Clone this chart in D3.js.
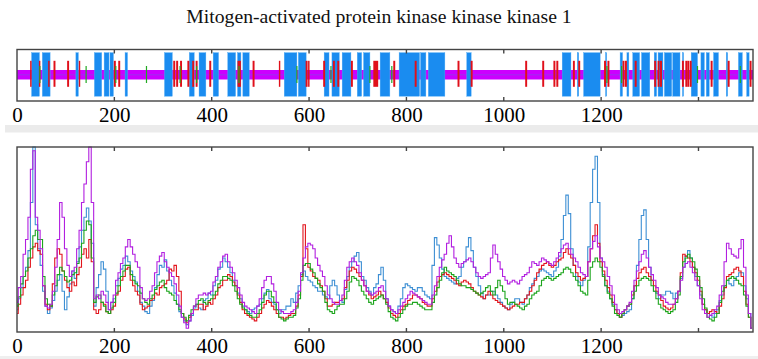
<!DOCTYPE html>
<html><head><meta charset="utf-8">
<script src="https://cdn.jsdelivr.net/npm/d3@7"></script>
<style>body{margin:0;background:#fff}svg{display:block}</style>
</head><body>
<script>
const title = "Mitogen-activated protein kinase kinase kinase 1";
const seqLength = 1512;
const tickValues = [0,200,400,600,800,1000,1200,1400];
const tickLabels = ["0","200","400","600","800","1000","1200",""];
// Domain map features (residue ranges)
const blueBlocks = [[30,46],[52,68],[121,126],[159,174],[179,189],[191,198],[222,227],[303,319],[354,364],[374,388],[403,414],[433,449],[453,460],[464,477],
 [549,575],[578,594],[631,641],[647,662],[668,686],[699,708],[712,725],[746,766],[785,827],[829,840],[845,879],[924,933],
 [1120,1138],[1151,1154],[1164,1198],[1209,1211],[1239,1244],[1253,1257],[1265,1279],[1283,1300],[1309,1314],[1317,1327],[1330,1345],[1347,1362],[1367,1369],[1385,1398],[1405,1412],[1416,1422],[1431,1441],[1457,1460],[1482,1490],[1499,1504]];
const redMarks = [[27,30],[45,48],[64,67],[75,79],[103,107],[127,129],[199,203],[208,212],[321,325],[327,331],[335,339],[350,354],[360,364],[367,371],[395,399],[453,457],[456,460],
 [484,488],[538,540],[593,597],[598,601],[629,633],[649,653],[658,662],[686,690],[732,742],[773,777],[817,821],[905,909],[932,936],
 [1044,1048],[1079,1083],[1102,1106],[1108,1112],[1142,1146],[1153,1157],[1206,1210],[1213,1217],[1244,1248],[1249,1253],[1269,1273],[1309,1313],[1316,1320],[1321,1325],[1366,1370],[1373,1377],[1377,1381],[1382,1386],[1425,1429],[1460,1464],[1505,1509]];
const greenMarks = [47,142,203,266,335,369,456,575,645,725,770,1212,1242,1398,1486];

// Profile series, one value every 5 residues (0..1510)
const residues = d3.range(0,1511,5);
const blueSeries = [
12,18,24,30,35,44,70,100,58,45, 36,22,14,10,13,17,22,28,31,22, 12,19,26,33,29,38,46,55,62,67, 60,48,14,24,31,38,34,22,12,16,
18,25,29,34,36,41,38,33,30,27, 22,16,14,11,10,14,17,24,31,36, 35,39,33,28,25,21,15,11,8,6, 4,6,9,13,15,13,12,17,18,21,
20,25,28,34,35,40,38,35,32,28, 25,21,18,14,12,11,10,12,13,14, 15,18,21,23,18,16,15,12,10,12, 12,14,14,18,16,21,25,31,33,30,
28,27,25,24,22,22,20,19,18,25, 28,25,20,17,16,23,30,35,38,41, 43,38,30,28,24,22,20,24,26,31, 35,28,18,14,12,11,10,14,18,24,
26,25,24,23,22,24,24,22,20,19, 18,36,51,47,40,34,30,29,28,27, 26,29,30,35,38,46,51,44,35,30, 25,21,18,20,20,22,22,20,18,16,
14,13,12,15,16,18,18,16,15,18, 20,24,26,29,30,33,34,33,32,31, 30,33,35,41,50,63,74,64,45,36, 30,27,25,28,30,46,70,88,95,70,
40,31,25,22,18,15,12,10,8,9, 10,11,12,18,25,36,50,63,66,50, 35,28,22,21,18,20,20,22,22,21, 18,21,22,29,35,41,44,40,35,30,
25,20,15,12,10,9,8,10,12,17, 20,25,28,26,25,28,30,32,32,25, 18,10,2];
const redSeries = [
10,15,20,24,28,35,40,46,48,44, 42,25,15,12,14,26,40,45,42,33, 28,24,22,27,25,31,35,42,45,40, 50,38,12,10,12,16,15,11,10,12,
14,20,22,28,30,34,35,28,25,22, 20,15,12,13,14,17,18,21,20,24, 25,26,28,34,33,36,30,22,10,7, 5,8,10,12,12,15,15,12,14,16,
15,18,20,24,25,28,28,31,30,27, 25,20,16,12,10,9,8,7,6,8, 10,13,15,17,16,14,12,10,8,8, 7,8,9,10,10,14,20,30,58,45,
35,33,30,29,28,25,22,18,14,14, 15,16,16,17,18,24,28,33,35,34, 32,30,28,25,22,20,18,19,20,22, 20,18,16,13,10,9,8,10,12,14,
15,17,18,20,20,19,18,16,15,14, 14,18,22,27,30,31,32,31,30,29, 28,26,25,27,28,27,26,24,22,21, 20,19,18,20,22,20,18,17,16,15,
14,13,12,13,14,15,15,16,16,18, 20,22,25,28,32,34,36,37,38,36, 35,36,38,39,40,43,45,42,40,36, 32,30,28,29,30,38,45,52,58,48,
38,33,28,24,20,16,12,10,8,10, 12,14,15,20,25,29,32,34,35,32, 30,28,25,22,20,17,14,13,12,13, 15,18,22,32,42,41,40,38,35,32,
28,22,15,12,10,11,12,11,10,14, 18,24,30,31,32,34,35,33,30,22, 15,8,2];
const greenSeries = [
14,19,26,30,33,40,45,52,55,50, 50,30,18,15,14,20,25,31,35,33, 30,27,28,31,32,37,40,48,55,60, 58,40,16,19,20,16,14,11,10,13,
16,21,25,30,33,36,36,31,28,26, 25,21,18,16,15,18,20,23,25,27, 28,24,22,21,20,17,15,12,10,8, 6,9,12,14,15,17,18,16,15,17,
18,20,22,26,28,30,30,29,28,25, 22,18,15,13,12,10,9,8,8,10, 12,16,20,22,22,19,16,12,8,7, 6,7,8,8,9,13,18,28,36,37,
37,34,32,29,26,24,22,16,12,11, 10,12,14,15,15,18,22,27,30,29, 28,25,22,20,18,16,15,17,18,19, 20,18,15,11,8,7,6,8,10,12,
14,15,15,16,16,15,14,13,12,12, 12,16,20,24,28,32,35,33,32,31, 30,28,26,25,25,24,24,23,22,21, 20,21,22,24,25,22,20,24,28,25,
22,18,15,16,16,15,14,13,12,14, 15,18,20,21,22,25,28,29,30,29, 28,29,30,31,32,34,35,34,32,30, 28,25,22,21,20,28,35,38,40,38,
35,30,25,21,18,14,10,9,8,10, 12,14,15,18,22,25,28,29,30,29, 28,25,22,18,15,13,12,11,10,11, 12,16,20,30,38,40,42,40,38,34,
30,24,18,13,8,7,6,8,10,16, 22,25,28,29,30,29,28,26,25,20, 14,8,2];
const magentaSeries = [
16,24,30,42,50,62,88,98,62,55, 45,25,14,13,15,22,35,50,70,62, 45,36,30,33,35,45,55,70,80,92, 100,70,18,20,18,22,20,16,12,16,
20,28,32,37,40,46,50,46,42,38, 35,24,18,17,18,22,25,32,38,41, 43,38,35,32,30,26,20,14,8,5, 2,6,10,14,18,20,20,21,20,21,
22,27,30,35,38,41,42,38,35,32, 28,24,20,16,14,13,12,11,10,14, 18,24,28,30,30,26,22,16,12,11, 10,10,10,11,12,16,22,32,40,46,
48,47,45,40,36,33,30,25,20,18, 16,15,15,17,20,28,35,38,40,38, 36,32,28,25,22,21,20,21,22,24, 25,22,18,14,12,11,10,12,14,16,
18,20,22,21,20,19,18,17,16,15, 15,20,25,30,35,39,42,48,52,46, 40,37,35,37,38,39,40,38,35,32, 30,29,30,31,32,40,47,42,38,34,
30,28,26,27,28,27,26,28,30,31, 32,35,38,37,36,38,40,39,38,37, 36,38,40,43,45,47,48,45,42,40, 38,35,32,31,30,38,45,49,52,46,
40,38,35,30,25,20,15,12,10,11, 12,14,16,22,28,33,38,42,44,40, 35,31,28,24,20,19,18,16,15,15, 15,18,22,28,35,37,38,35,32,28,
25,18,12,10,8,9,10,12,14,20, 25,38,48,45,42,41,40,45,50,35, 20,10,2];

const W = 758, H = 359;
const svg = d3.select("body").append("svg").attr("width",W).attr("height",H);
svg.append("rect").attr("width",W).attr("height",H).attr("fill","#fff");
svg.append("rect").attr("x",5).attr("y",125).attr("width",W-5).attr("height",7.5).attr("fill","#ebebeb");
svg.append("rect").attr("x",0).attr("y",356).attr("width",W).attr("height",3).attr("fill","#efefef");

const x = d3.scaleLinear().domain([0,seqLength]).range([17,753]);
const serif = "'Liberation Serif','Times New Roman',serif";

svg.append("text").attr("x",379).attr("y",23).attr("text-anchor","middle")
  .attr("font-family",serif).attr("font-size",19.7).attr("fill","#111").text(title);

// ---------- Top domain panel ----------
const top0 = 49.5, top1 = 101;
const g1 = svg.append("g");
g1.append("rect").attr("x",x(0)).attr("y",70).attr("width",x(seqLength)-x(0)).attr("height",9.5).attr("fill","#cc00ff");
g1.append("line").attr("x1",x(0)).attr("x2",x(seqLength)).attr("y1",74.8).attr("y2",74.8).attr("stroke","#7a50e0").attr("stroke-width",0.6);
g1.selectAll("rect.blue").data(blueBlocks).join("rect").attr("class","blue")
  .attr("x",d=>x(d[0])).attr("width",d=>Math.max(1.2,x(d[1])-x(d[0])))
  .attr("y",52.7).attr("height",43.5).attr("fill","#1a8cf0").attr("stroke","#4aa8f5").attr("stroke-width",0.4);
g1.selectAll("rect.red").data(redMarks).join("rect").attr("class","red")
  .attr("x",d=>x(d[0])).attr("width",d=>Math.max(1.4,x(d[1])-x(d[0])))
  .attr("y",60.8).attr("height",26).attr("fill","#e0101a");
g1.selectAll("rect.green").data(greenMarks).join("rect").attr("class","green")
  .attr("x",d=>x(d)-0.6).attr("width",1.2)
  .attr("y",66).attr("height",17).attr("fill","#22aa22");
g1.append("rect").attr("x",x(0)).attr("y",top0).attr("width",x(seqLength)-x(0)).attr("height",top1-top0)
  .attr("fill","none").attr("stroke","#444").attr("stroke-width",1.4);
tickValues.forEach(v=>{
  if(v===0) return;
  g1.append("line").attr("x1",x(v)).attr("x2",x(v)).attr("y1",top0).attr("y2",top0+4).attr("stroke","#444").attr("stroke-width",1.4);
  g1.append("line").attr("x1",x(v)).attr("x2",x(v)).attr("y1",top1).attr("y2",top1-4).attr("stroke","#444").attr("stroke-width",1.4);
});
const axTop = d3.axisBottom(x).tickValues(tickValues).tickFormat((d,i)=>tickLabels[i]).tickSize(0).tickPadding(0);
const ga = svg.append("g").attr("transform",`translate(0,${top1})`).call(axTop);
ga.select(".domain").remove();
ga.selectAll("text").attr("font-family",serif).attr("font-size",21).attr("fill","#000").attr("dy",null).attr("y",20.5);

// ---------- Bottom profile panel ----------
const b0 = 147, b1 = 332;
const y = d3.scaleLinear().domain([0,100]).range([b1,b0]);
const g2 = svg.append("g");
const line = d3.line().x((d,i)=>x(residues[i])).y(d=>y(d)).curve(d3.curveStep);
const series = [
  {vals: blueSeries, color:"#3d8fd4"},
  {vals: redSeries, color:"#e2141c"},
  {vals: greenSeries, color:"#1ca51c"},
  {vals: magentaSeries, color:"#b21fe0"}
];
series.forEach(s=>{
  g2.append("path").datum(s.vals).attr("d",line).attr("fill","none").attr("stroke",s.color).attr("stroke-width",1.1);
});
g2.append("rect").attr("x",x(0)).attr("y",b0).attr("width",x(seqLength)-x(0)).attr("height",b1-b0)
  .attr("fill","none").attr("stroke","#444").attr("stroke-width",1.4);
tickValues.forEach(v=>{
  if(v===0) return;
  g2.append("line").attr("x1",x(v)).attr("x2",x(v)).attr("y1",b0).attr("y2",b0+4).attr("stroke","#444").attr("stroke-width",1.4);
  g2.append("line").attr("x1",x(v)).attr("x2",x(v)).attr("y1",b1).attr("y2",b1-4).attr("stroke","#444").attr("stroke-width",1.4);
});
const gb = svg.append("g").attr("transform",`translate(0,${b1})`).call(axTop);
gb.select(".domain").remove();
gb.selectAll("text").attr("font-family",serif).attr("font-size",21).attr("fill","#000").attr("dy",null).attr("y",20.5);
</script>
</body></html>
